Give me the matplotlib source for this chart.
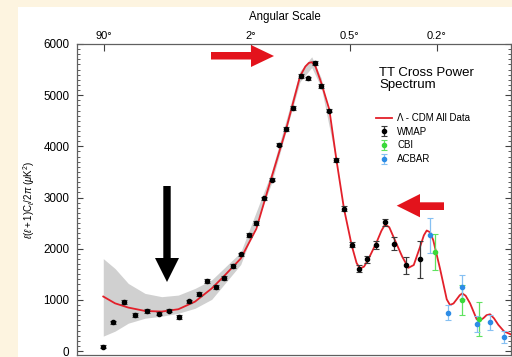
import numpy as np
import matplotlib
matplotlib.use("Agg")
import matplotlib.pyplot as plt
from matplotlib.patches import Rectangle, Polygon
from matplotlib.ticker import MultipleLocator, NullLocator

plt.rcParams['font.family'] = ['Liberation Sans', 'DejaVu Sans']
plt.rcParams['mathtext.fontset'] = 'custom'
plt.rcParams['mathtext.rm'] = 'Liberation Sans'
plt.rcParams['mathtext.it'] = 'Liberation Sans:italic'

# ---------------- data ----------------
wmap_l = [1.95, 2.88, 4.41, 6.4, 9.27, 12.9, 16.9, 21.8, 27.3, 33.8, 40.4, 48.4, 56.4,
          65.8, 75.9, 87.5, 98.8, 111.8, 126.7, 140.2, 156, 172, 192, 211.8, 234, 253,
          280.6, 306, 336, 368, 401, 439, 484, 533, 591, 666, 764]
wmap_v = [85, 560, 955, 705, 780, 730, 790, 660, 970, 1110, 1370, 1250, 1431,
          1664, 1890, 2272, 2505, 2984, 3350, 4033, 4344, 4751, 5379, 5326, 5625, 5184,
          4699, 3728, 2777, 2078, 1612, 1792, 2064, 2518, 2097, 1676, 1792]
wmap_e = [35, 35, 35, 35, 35, 35, 35, 35, 35, 35, 35, 35, 35,
          35, 35, 35, 35, 35, 35, 35, 35, 35, 35, 35, 35, 35,
          35, 40, 50, 50, 60, 70, 80, 70, 130, 165, 360]

cbi_l = [882, 1136, 1314]
cbi_v = [1936, 1000, 625]
cbi_e = [345, 290, 330]

acbar_l = [846, 998, 1136, 1295, 1442, 1619]
acbar_v = [2258, 750, 1245, 528, 560, 275]
acbar_e = [350, 150, 235, 155, 146, 120]

model_l = [1.95, 3.16, 5.12, 8.74, 14.0, 21.3, 31.2, 44.2, 55.4, 75.9, 98.8, 124.7,
           156.2, 190.5, 205, 215, 223.4, 235, 253.4, 280.6, 306.2, 336.2, 368.4,
           390, 405.7, 425, 445.8, 489.2, 515, 535.3, 560, 595, 640, 681.9, 720,
           766, 795, 817.5, 845, 870.6, 927.1, 986.9, 1017, 1050, 1080, 1110, 1136,
           1170, 1216, 1288, 1325, 1363, 1400, 1442, 1490, 1545, 1619, 1726]
model_v = [1065, 932, 849, 783, 771, 816, 965, 1223, 1450, 1806, 2388, 3359,
           4330, 5365, 5560, 5630, 5645, 5560, 5237, 4718, 3748, 2777, 2064,
           1720, 1612, 1650, 1792, 2130, 2350, 2472, 2420, 2161, 1850, 1625, 1680,
           2033, 2260, 2355, 2320, 2161, 1612, 1010, 899, 930, 1010, 1090, 1126,
           1080, 932, 620, 600, 641, 700, 718, 640, 511, 383, 316]

band_l = [1.95, 3.16, 5.12, 8.74, 14.0, 21.3, 31.2, 44.2, 75.9, 124.7, 190.5, 223.4, 253.4, 306]
band_lo = [291, 388, 544, 641, 680, 738, 835, 1010, 1690, 3250, 5260, 5540, 5150, 3700]
band_hi = [1806, 1612, 1320, 1126, 1062, 1093, 1223, 1390, 1930, 3470, 5470, 5750, 5330, 3800]

top_ticks_l = [2, 90, 360, 900]
top_ticks_lab = ['90°', '2°', '0.5°', '0.2°']
y_ticks = [0, 1000, 2000, 3000, 4000, 5000, 6000]

# ---------------- figure ----------------
W, H = 512, 357
fig = plt.figure(figsize=(W / 100, H / 100), dpi=100)
fig.patch.set_facecolor('#fdf4e0')
fig.patches.append(Rectangle((18 / W, 0), 1, 1 - 7 / H, transform=fig.transFigure,
                             facecolor='white', edgecolor='none', zorder=-10))

ax = fig.add_axes([77 / W, 2 / H, 434 / W, 311 / H])


def fwd(x):
    x = np.asarray(x, dtype=float)
    return np.sign(x) * np.abs(x) ** 0.25


def inv(y):
    y = np.asarray(y, dtype=float)
    return np.sign(y) * np.abs(y) ** 4


ax.set_xscale('function', functions=(fwd, inv))
ax.set_xlim(0.506, 1712)
ax.set_ylim(-78, 6000)

ax.fill_between(band_l, band_lo, band_hi, color='#d0d0d0', lw=0, zorder=1)
line, = ax.plot(model_l, model_v, color='#e3202a', lw=1.3, zorder=3)

ew = dict(capsize=2, capthick=0.8, elinewidth=0.9, markersize=3.0, marker='o', linestyle='none', zorder=4)
h_w = ax.errorbar(wmap_l, wmap_v, yerr=wmap_e, color='black', ecolor='#3a3a3a', **ew)
h_c = ax.errorbar(cbi_l, cbi_v, yerr=cbi_e, color='#3ad93a', ecolor='#5fe35f', **ew)
h_a = ax.errorbar(acbar_l, acbar_v, yerr=acbar_e, color='#2d8ce6', ecolor='#86c0f2', **ew)

ax.legend([line, h_w, h_c, h_a], ['Λ - CDM All Data', 'WMAP', 'CBI', 'ACBAR'],
          loc='upper left', bbox_to_anchor=(376 / W, 1 - 113 / H), bbox_transform=fig.transFigure,
          frameon=False, fontsize=7, handlelength=1.6, handletextpad=0.6,
          labelspacing=0.38, borderpad=0, borderaxespad=0)

# axes styling
for s in ax.spines.values():
    s.set_color('#606060')
    s.set_linewidth(0.9)
ax.xaxis.set_ticks_position('top')
ax.set_xticks(top_ticks_l)
ax.set_xticklabels(top_ticks_lab)
ax.xaxis.set_minor_locator(NullLocator())
ax.tick_params(axis='x', which='both', direction='in', top=True, bottom=False,
               labeltop=True, labelbottom=False, length=5, width=0.8, color='#404040',
               labelsize=8, pad=2)
ax.set_yticks(y_ticks)
ax.yaxis.set_minor_locator(MultipleLocator(100))
ax.tick_params(axis='y', which='major', direction='in', left=True, right=True,
               length=4, width=0.8, color='#404040', labelsize=8.4, pad=5.5)
ax.tick_params(axis='y', which='minor', direction='in', left=True, right=True,
               length=2.2, width=0.6, color='#404040')

fig.text(285 / W, 1 - 17 / H, 'Angular Scale', ha='center', va='center', fontsize=8.3)
fig.text(29.5 / W, 1 - 200 / H, r'$\ell(\ell+1)\mathrm{C}_\ell/2\pi\ (\mu\mathrm{K}^2)$',
         rotation=90, ha='center', va='center', fontsize=7)
fig.text(379 / W, 1 - 67 / H, 'TT Cross Power\nSpectrum', ha='left', va='top',
         fontsize=9.5, linespacing=0.95)


def arrow(pts, color):
    p = Polygon([(x / W, 1 - y / H) for x, y in pts], closed=True, transform=fig.transFigure,
                facecolor=color, edgecolor='none', zorder=10)
    fig.patches.append(p)


arrow([(211, 52), (251, 52), (251, 45), (274, 56), (251, 67), (251, 59.5), (211, 59.5)], '#e3131c')
arrow([(163.3, 186), (170.7, 186), (170.7, 258), (179, 258), (167, 282), (155, 258), (163.3, 258)], 'black')
arrow([(444, 202.3), (420, 202.3), (420, 194), (396.7, 205.7), (420, 217.3), (420, 210), (444, 210)], '#e3131c')

fig.savefig('out.png', dpi=100, facecolor=fig.get_facecolor())
